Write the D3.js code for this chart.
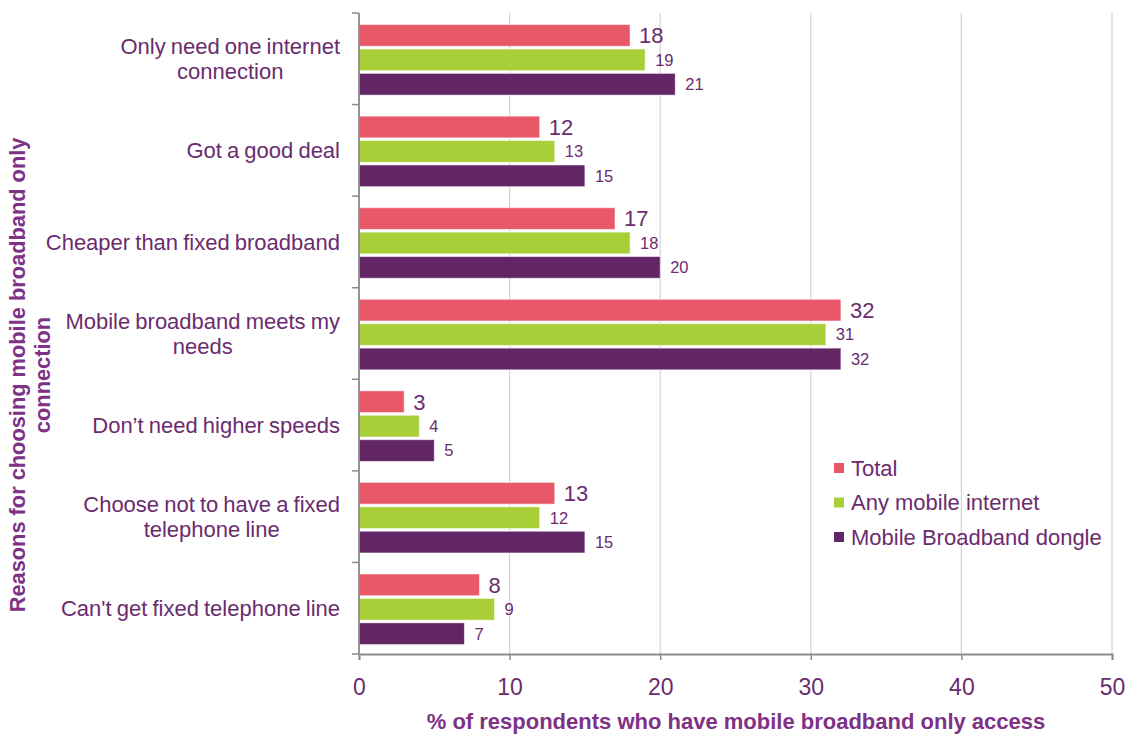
<!DOCTYPE html>
<html>
<head>
<meta charset="utf-8">
<script src="https://cdn.jsdelivr.net/npm/d3@7"></script>
<style>
  html, body { margin: 0; padding: 0; background: #fff; }
  svg { display: block; font-family: "Liberation Sans", Arial, sans-serif; }
</style>
</head>
<body>
<svg id="chart" width="1127" height="735"></svg>
<script>
// Reasons for choosing mobile broadband only (% of respondents)
const categories = [
  ["Only need one internet", "connection"],
  ["Got a good deal"],
  ["Cheaper than fixed broadband"],
  ["Mobile broadband meets my", "needs"],
  ["Don\u2019t need higher speeds"],
  ["Choose not to have a fixed", "telephone line"],
  ["Can't get fixed telephone line"]
];
const seriesNames = ["Total", "Any mobile internet", "Mobile Broadband dongle"];
const totalValues = [18, 12, 17, 32, 3, 13, 8];
const anyMobileValues = [19, 13, 18, 31, 4, 12, 9];
const dongleValues = [21, 15, 20, 32, 5, 15, 7];
const xTicks = [0, 10, 20, 30, 40, 50];
const xTitle = "% of respondents who have mobile broadband only access";
const yTitle = ["Reasons for choosing mobile broadband only", "connection"];

const seriesValues = [totalValues, anyMobileValues, dongleValues];
const colors = ["#E85868", "#A9CF38", "#622565"];
const textColor = "#6B2C6E";
const titleColor = "#7E3286";

const svg = d3.select("#chart");
const margin = { top: 13, right: 15, bottom: 81, left: 359 };
const W = 1127, H = 735;
const innerW = W - margin.left - margin.right;
const innerH = H - margin.top - margin.bottom;

const g = svg.append("g").attr("transform", `translate(${margin.left},${margin.top})`);

const x = d3.scaleLinear().domain([0, 50]).range([0, innerW]);
const y = d3.scaleBand().domain(d3.range(categories.length)).range([0, innerH]).padding(0);
const ySub = d3.scaleBand().domain(d3.range(seriesNames.length))
  .range([0, y.bandwidth()]).paddingInner(0.11).paddingOuter(0.43).align(0.55);

// vertical gridlines
g.append("g").selectAll("line").data(xTicks.filter(t => t > 0)).join("line")
  .attr("x1", d => x(d)).attr("x2", d => x(d))
  .attr("y1", 0).attr("y2", innerH)
  .attr("stroke", "#D4D4D4").attr("stroke-width", 1.2);

// bars
const rows = categories.map((c, i) => ({ i, vals: seriesValues.map(s => s[i]) }));
const grp = g.append("g").selectAll("g").data(rows).join("g")
  .attr("transform", d => `translate(0,${y(d.i)})`);

grp.selectAll("rect").data(d => d.vals.map((v, k) => ({ v, k }))).join("rect")
  .attr("x", x(0))
  .attr("y", d => ySub(d.k))
  .attr("width", d => x(d.v) - x(0))
  .attr("height", ySub.bandwidth())
  .attr("fill", d => colors[d.k])
  .attr("stroke", "#ffffff").attr("stroke-opacity", 0.55).attr("stroke-width", 1);

// value labels
grp.selectAll("text").data(d => d.vals.map((v, k) => ({ v, k }))).join("text")
  .attr("x", d => x(d.v) + (d.k === 0 ? 9 : 10))
  .attr("y", d => ySub(d.k) + ySub.bandwidth() / 2)
  .attr("dy", "0.36em")
  .attr("fill", textColor)
  .attr("font-size", d => d.k === 0 ? 22 : 16.5)
  .text(d => d.v);

// y axis (category boundaries as ticks)
const axisColor = "#8A8A8A";
g.append("line").attr("x1", 0).attr("x2", 0).attr("y1", 0).attr("y2", innerH)
  .attr("stroke", axisColor).attr("stroke-width", 1.8);
g.append("g").selectAll("line").data(d3.range(categories.length + 1)).join("line")
  .attr("x1", -7).attr("x2", 0)
  .attr("y1", d => d * y.step()).attr("y2", d => d * y.step())
  .attr("stroke", axisColor).attr("stroke-width", 1.5);

// x axis
const xAxis = g.append("g").attr("transform", `translate(0,${innerH})`)
  .call(d3.axisBottom(x).tickValues(xTicks).tickSize(6).tickPadding(19).tickFormat(d3.format("d")));
xAxis.select(".domain").attr("stroke", axisColor).attr("stroke-width", 1.8);
xAxis.selectAll(".tick line").attr("stroke", axisColor).attr("stroke-width", 1.5);
xAxis.selectAll(".tick text").attr("fill", textColor).attr("font-size", 23)
  .attr("font-family", "Liberation Sans, Arial, sans-serif");

// category labels: each label block right-aligned, lines centred inside the block
const labelRight = 340;
const catFont = 22;
const labels = g.append("g").attr("font-size", catFont).attr("fill", textColor)
  .attr("word-spacing", -1);
categories.forEach((lines, i) => {
  const cy = y(i) + y.bandwidth() / 2;
  const lh = 25;
  const t = labels.append("text").attr("text-anchor", "middle");
  const spans = lines.map((ln, j) => t.append("tspan")
    .attr("y", cy + (j - (lines.length - 1) / 2) * lh).attr("dy", "0.36em").text(ln));
  const widths = spans.map(s => s.node().getComputedTextLength());
  const maxW = d3.max(widths);
  const cx = labelRight - margin.left - maxW / 2;
  spans.forEach(s => s.attr("x", cx));
});

// axis titles
svg.append("text")
  .attr("x", 736).attr("y", 729)
  .attr("text-anchor", "middle").attr("font-weight", "bold")
  .attr("font-size", 22).attr("fill", titleColor)
  .text(xTitle);

const yt = svg.append("text")
  .attr("transform", "translate(0,375) rotate(-90)")
  .attr("text-anchor", "middle").attr("font-weight", "bold")
  .attr("font-size", 21.8).attr("fill", titleColor);
yTitle.forEach((ln, j) => yt.append("tspan").attr("x", 0).attr("y", 25 + j * 25).text(ln));

// legend
const legend = svg.append("g").attr("transform", "translate(834,468)");
seriesNames.forEach((name, k) => {
  const row = legend.append("g").attr("transform", `translate(0,${k * 34.5})`);
  row.append("rect").attr("x", 0).attr("y", -5).attr("width", 10).attr("height", 10)
    .attr("fill", colors[k]);
  row.append("text").attr("x", 17).attr("y", 0).attr("dy", "0.36em")
    .attr("font-size", 22).attr("fill", textColor).text(name);
});
</script>
</body>
</html>
